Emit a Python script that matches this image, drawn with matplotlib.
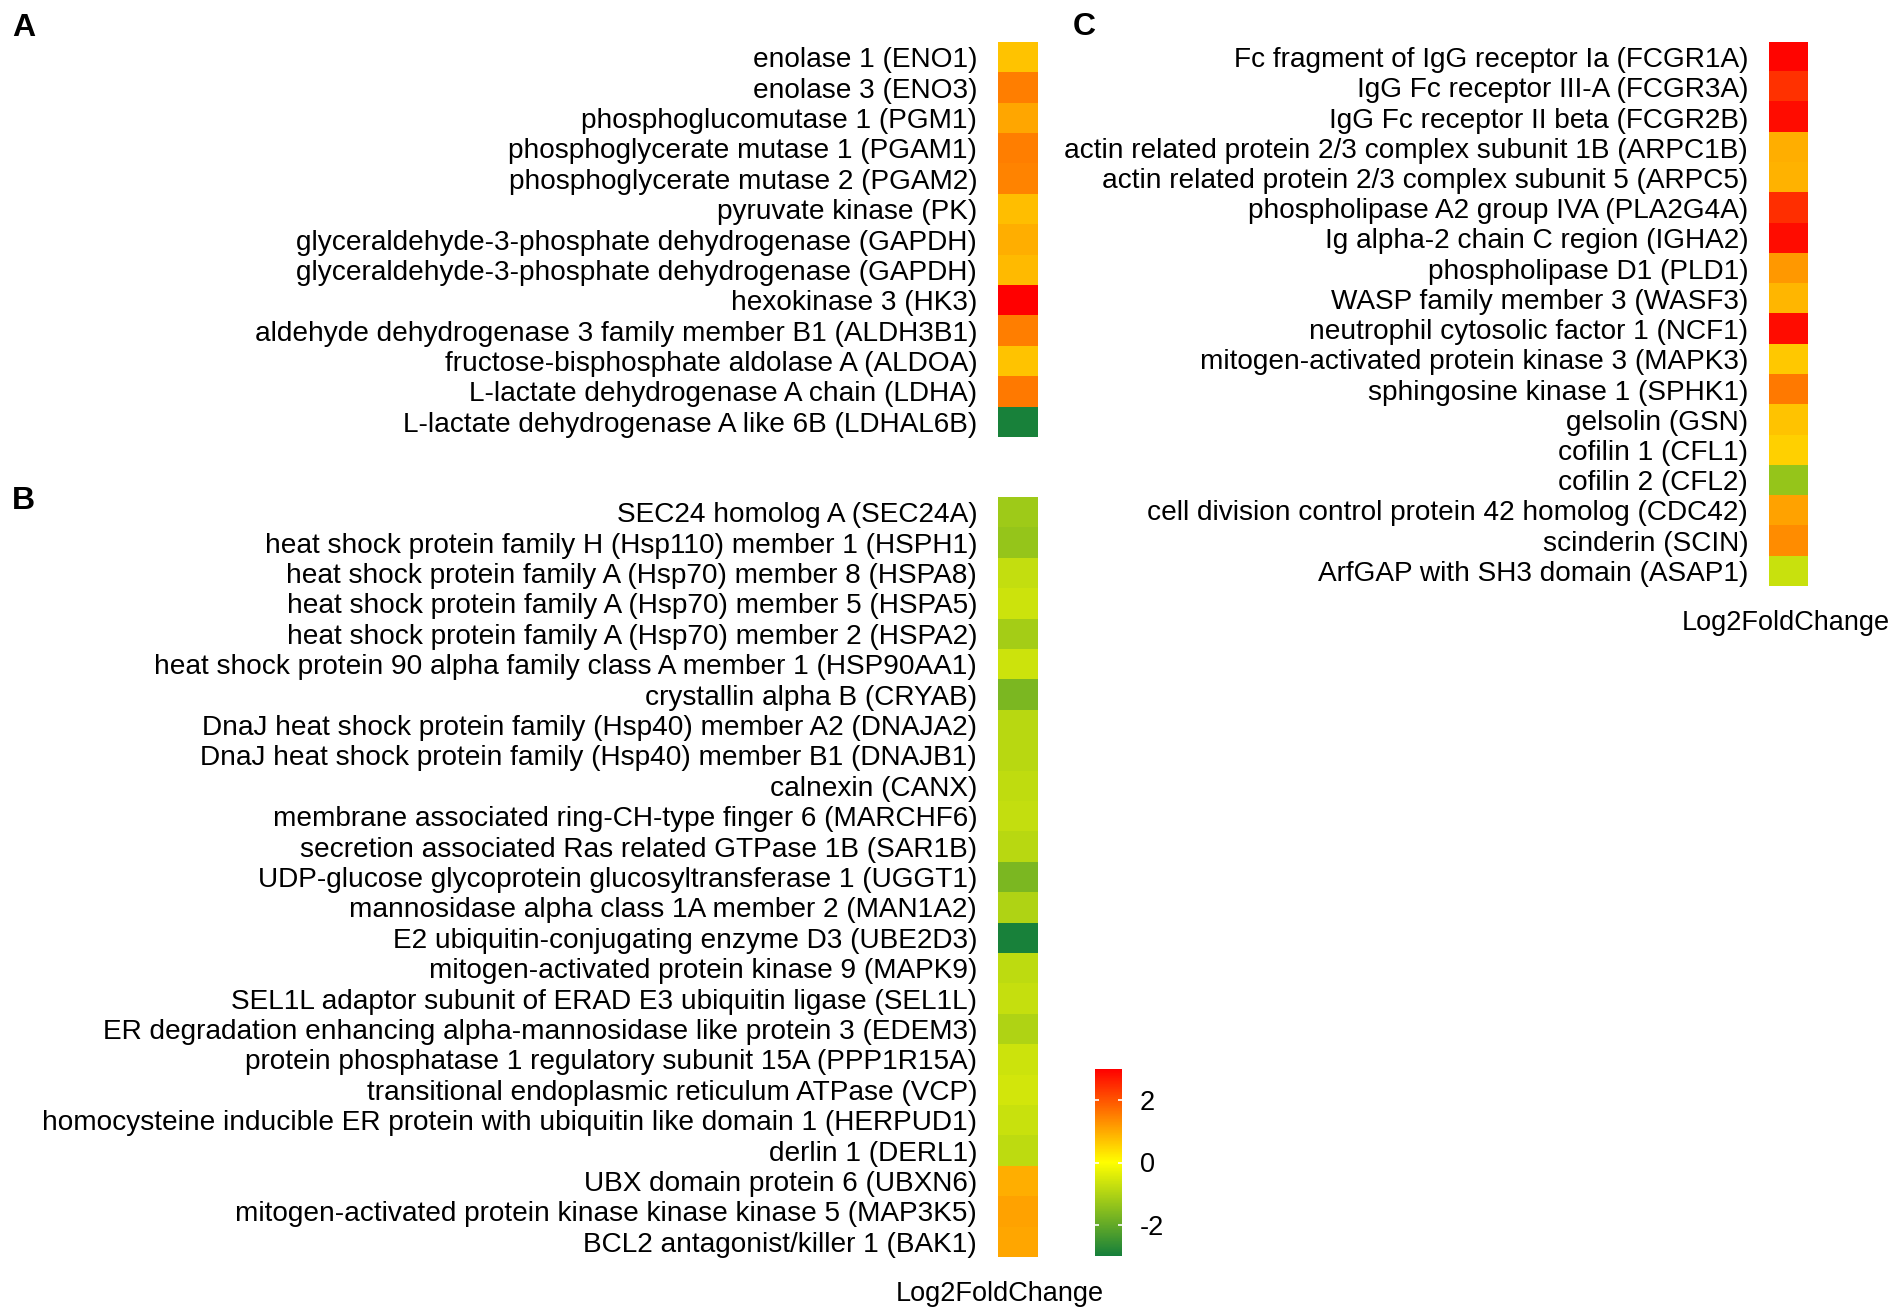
import numpy as np
import matplotlib
matplotlib.use('Agg')
import matplotlib.pyplot as plt
from matplotlib.colors import LinearSegmentedColormap

plt.rcParams['font.family'] = ['Liberation Sans', 'DejaVu Sans']

# panel A: glycolysis
genes_a = ['enolase 1 (ENO1)', 'enolase 3 (ENO3)', 'phosphoglucomutase 1 (PGM1)',
           'phosphoglycerate mutase 1 (PGAM1)', 'phosphoglycerate mutase 2 (PGAM2)',
           'pyruvate kinase (PK)', 'glyceraldehyde-3-phosphate dehydrogenase (GAPDH)',
           'glyceraldehyde-3-phosphate dehydrogenase (GAPDH)', 'hexokinase 3 (HK3)',
           'aldehyde dehydrogenase 3 family member B1 (ALDH3B1)',
           'fructose-bisphosphate aldolase A (ALDOA)', 'L-lactate dehydrogenase A chain (LDHA)',
           'L-lactate dehydrogenase A like 6B (LDHAL6B)']
lfc_a = [0.7, 1.5, 1.05, 1.5, 1.45, 0.75, 0.95, 0.8, 3.0, 1.5, 0.7, 1.55, -2.95]

# panel B: ER stress / protein processing
genes_b = ['SEC24 homolog A (SEC24A)', 'heat shock protein family H (Hsp110) member 1 (HSPH1)',
           'heat shock protein family A (Hsp70) member 8 (HSPA8)',
           'heat shock protein family A (Hsp70) member 5 (HSPA5)',
           'heat shock protein family A (Hsp70) member 2 (HSPA2)',
           'heat shock protein 90 alpha family class A member 1 (HSP90AA1)',
           'crystallin alpha B (CRYAB)', 'DnaJ heat shock protein family (Hsp40) member A2 (DNAJA2)',
           'DnaJ heat shock protein family (Hsp40) member B1 (DNAJB1)', 'calnexin (CANX)',
           'membrane associated ring-CH-type finger 6 (MARCHF6)',
           'secretion associated Ras related GTPase 1B (SAR1B)',
           'UDP-glucose glycoprotein glucosyltransferase 1 (UGGT1)',
           'mannosidase alpha class 1A member 2 (MAN1A2)', 'E2 ubiquitin-conjugating enzyme D3 (UBE2D3)',
           'mitogen-activated protein kinase 9 (MAPK9)',
           'SEL1L adaptor subunit of ERAD E3 ubiquitin ligase (SEL1L)',
           'ER degradation enhancing alpha-mannosidase like protein 3 (EDEM3)',
           'protein phosphatase 1 regulatory subunit 15A (PPP1R15A)',
           'transitional endoplasmic reticulum ATPase (VCP)',
           'homocysteine inducible ER protein with ubiquitin like domain 1 (HERPUD1)',
           'derlin 1 (DERL1)', 'UBX domain protein 6 (UBXN6)',
           'mitogen-activated protein kinase kinase kinase 5 (MAP3K5)',
           'BCL2 antagonist/killer 1 (BAK1)']
lfc_b = [-1.22, -1.35, -0.77, -0.64, -1.15, -0.64, -1.67, -0.9, -0.9, -0.8, -0.77, -0.9,
         -1.67, -1.03, -2.95, -0.83, -0.73, -1.03, -0.64, -0.58, -0.7, -0.83, 0.95, 1.1, 1.05]

# panel C: Fc receptor / phagocytosis
genes_c = ['Fc fragment of IgG receptor Ia (FCGR1A)', 'IgG Fc receptor III-A (FCGR3A)',
           'IgG Fc receptor II beta (FCGR2B)', 'actin related protein 2/3 complex subunit 1B (ARPC1B)',
           'actin related protein 2/3 complex subunit 5 (ARPC5)',
           'phospholipase A2 group IVA (PLA2G4A)', 'Ig alpha-2 chain C region (IGHA2)',
           'phospholipase D1 (PLD1)', 'WASP family member 3 (WASF3)',
           'neutrophil cytosolic factor 1 (NCF1)', 'mitogen-activated protein kinase 3 (MAPK3)',
           'sphingosine kinase 1 (SPHK1)', 'gelsolin (GSN)', 'cofilin 1 (CFL1)', 'cofilin 2 (CFL2)',
           'cell division control protein 42 homolog (CDC42)', 'scinderin (SCIN)',
           'ArfGAP with SH3 domain (ASAP1)']
lfc_c = [2.95, 2.4, 2.85, 0.95, 0.9, 2.45, 2.85, 1.2, 0.85, 2.85, 0.65, 1.55, 0.7, 0.55,
         -1.35, 1.1, 1.35, -0.7]

cbar_ticks = [-2, 0, 2]

W, H = 1901, 1316
cmap = LinearSegmentedColormap.from_list('gyr', ['#157F3B', '#FFFF00', '#FF0000'])
FS = 19.5
FS_ROW = 20.2


def px_axes(fig, x0, y0, x1, y1):
    return fig.add_axes([x0 / W, 1 - y1 / H, (x1 - x0) / W, (y1 - y0) / H])


def heat(ax, genes, vals):
    im = ax.imshow(np.array(vals).reshape(-1, 1), aspect='auto', cmap=cmap,
                   vmin=-3, vmax=3, interpolation='nearest')
    ax.set_yticks(range(len(genes)))
    ax.set_yticklabels(genes, fontsize=FS_ROW)
    ax.set_xticks([])
    ax.tick_params(axis='y', length=0, pad=15)
    for s in ax.spines.values():
        s.set_visible(False)
    return im


fig = plt.figure(figsize=(W / 100, H / 100), dpi=100)

ax_a = px_axes(fig, 998, 42, 1038, 437)
im = heat(ax_a, genes_a, lfc_a)
ax_b = px_axes(fig, 998, 497, 1038, 1257)
heat(ax_b, genes_b, lfc_b)
ax_c = px_axes(fig, 1769, 42, 1808, 586)
heat(ax_c, genes_c, lfc_c)

cax = px_axes(fig, 1095, 1069, 1122, 1256)
cb = fig.colorbar(im, cax=cax, ticks=cbar_ticks)
cb.outline.set_visible(False)
cax.yaxis.set_ticks_position('both')
cax.yaxis.set_label_position('right')
cax.tick_params(axis='y', direction='in', length=3, width=1.2, color='white',
                labelsize=FS, pad=13, labelleft=False, labelright=True)
cax.set_yticklabels([str(t) for t in cbar_ticks])

fig.text(1000 / W, 1 - 1294 / H, 'Log2FoldChange', fontsize=FS, ha='center', va='center')
fig.text(1786 / W, 1 - 623 / H, 'Log2FoldChange', fontsize=FS, ha='center', va='center')

for lab, x, y in [('A', 12, 36), ('B', 12, 509), ('C', 1073, 35)]:
    fig.text(x / W, 1 - y / H, lab, fontsize=23, fontweight='bold', ha='left', va='baseline')

fig.savefig('out.png', dpi=100)
